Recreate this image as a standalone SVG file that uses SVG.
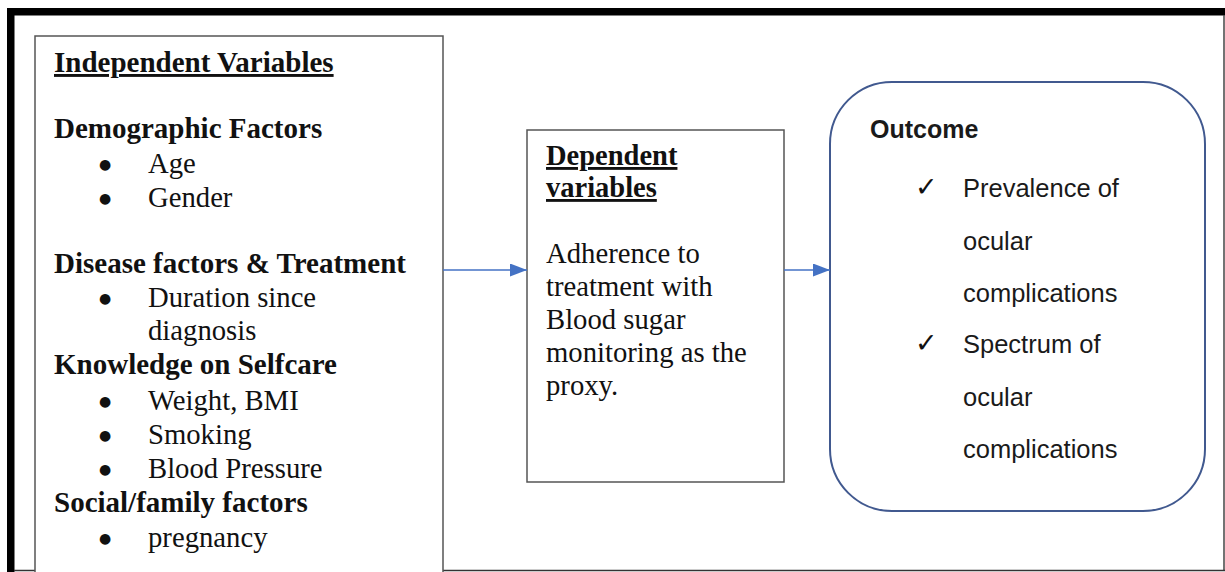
<svg xmlns="http://www.w3.org/2000/svg" width="1225" height="572" viewBox="0 0 1225 572">
<style>
.serif{font-family:"Liberation Serif","Times New Roman",serif;font-size:28.7px;fill:#111}
.b{font-weight:bold;font-size:29px}
.u{text-decoration:underline}
.bul{font-family:"DejaVu Sans",sans-serif;font-size:14px;fill:#111}
.sans{font-family:"Liberation Sans",Arial,sans-serif;font-size:25.5px;fill:#1a1a1a}
.box{fill:#fff;stroke:#555;stroke-width:1.5}
.conn{stroke:#4472c4;stroke-width:1.5;fill:none}
.check{font-family:"DejaVu Sans",sans-serif;font-size:27px;fill:#111}
</style>
<defs>
<marker id="ah" markerWidth="17" markerHeight="13" refX="17" refY="6.5" orient="auto" markerUnits="userSpaceOnUse">
<path d="M0,0 L17,6.5 L0,13 Z" fill="#4472c4"/>
</marker>
</defs>
<rect width="1225" height="572" fill="#fff"/>
<g id="frame">
<rect x="7" y="8" width="1218" height="7.5" fill="#000"/>
<rect x="7" y="8" width="7.5" height="564" fill="#000"/>
<line x1="1224" y1="15" x2="1224" y2="571" stroke="#444" stroke-width="1.5"/>
<line x1="14" y1="570.5" x2="1225" y2="570.5" stroke="#333" stroke-width="1.5"/>
</g>
<g id="independent">
<rect class="box" x="35" y="36" width="408" height="540"/>
<text class="serif b u" x="54" y="72">Independent Variables</text>
<text class="serif b" x="54" y="138">Demographic Factors</text>
<text class="bul" x="99" y="169">●</text><text class="serif" x="148" y="173">Age</text>
<text class="bul" x="99" y="203">●</text><text class="serif" x="148" y="207">Gender</text>
<text class="serif b" x="54" y="273">Disease factors &amp; Treatment</text>
<text class="bul" x="99" y="303">●</text><text class="serif" x="148" y="307">Duration since</text>
<text class="serif" x="148" y="340">diagnosis</text>
<text class="serif b" x="54" y="374">Knowledge on Selfcare</text>
<text class="bul" x="99" y="406">●</text><text class="serif" x="148" y="410">Weight, BMI</text>
<text class="bul" x="99" y="440">●</text><text class="serif" x="148" y="444">Smoking</text>
<text class="bul" x="99" y="474">●</text><text class="serif" x="148" y="478">Blood Pressure</text>
<text class="serif b" x="54" y="512">Social/family factors</text>
<text class="bul" x="99" y="543">●</text><text class="serif" x="148" y="547">pregnancy</text>
</g>
<g id="dependent">
<rect class="box" x="527" y="130" width="257" height="352"/>
<text class="serif b u" x="546" y="165" style="font-size:28.5px">Dependent</text>
<text class="serif b u" x="546" y="197" style="font-size:28.5px">variables</text>
<text class="serif" x="546" y="263">Adherence to</text>
<text class="serif" x="546" y="296">treatment with</text>
<text class="serif" x="546" y="329">Blood sugar</text>
<text class="serif" x="546" y="362">monitoring as the</text>
<text class="serif" x="546" y="395">proxy.</text>
</g>
<g id="outcome">
<rect x="830" y="82" width="375" height="429" rx="62" ry="62" fill="#fff" stroke="#41598f" stroke-width="2"/>
<text class="sans b" x="870" y="138" style="font-size:25px">Outcome</text>
<text class="check" x="915" y="196">✓</text>
<text class="sans" x="963" y="197">Prevalence of</text>
<text class="sans" x="963" y="250">ocular</text>
<text class="sans" x="963" y="302">complications</text>
<text class="check" x="915" y="352">✓</text>
<text class="sans" x="963" y="353">Spectrum of</text>
<text class="sans" x="963" y="406">ocular</text>
<text class="sans" x="963" y="458">complications</text>
</g>
<g id="connectors">
<line class="conn" x1="443" y1="270" x2="527" y2="270" marker-end="url(#ah)"/>
<line class="conn" x1="784" y1="270" x2="830" y2="270" marker-end="url(#ah)"/>
</g>
</svg>
